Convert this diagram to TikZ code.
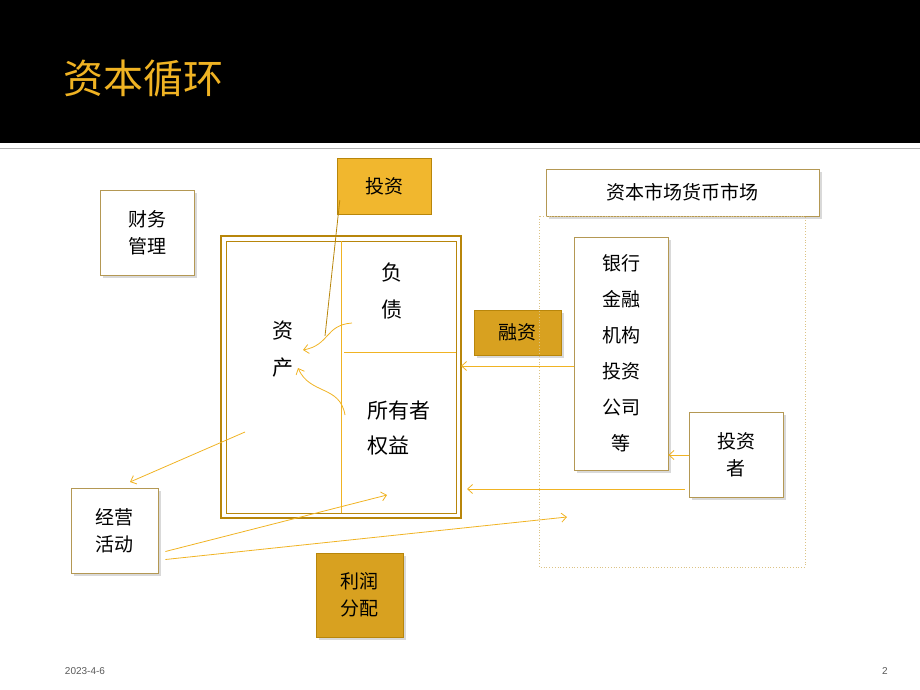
\documentclass[tikz,border=0pt]{standalone}
\usepackage{fontspec}
\setmainfont{Liberation Sans}
\newfontfamily\cjk{Noto Sans CJK SC}
\usetikzlibrary{arrows.meta}
\definecolor{gold}{HTML}{B8860B}
\definecolor{org}{HTML}{F0B323}
\definecolor{titlec}{HTML}{F0B323}
\tikzset{x=1pt,y=-1pt,
 wbox/.style={draw=gold!80!black!70,fill=white,drop shadow={opacity=0.3},line width=0.8pt},
 lbl/.style={font=\cjk\fontsize{19}{27}\selectfont,align=center,inner sep=0pt},
 arr/.style={draw=org,line width=0.8pt,-{Straight Barb[length=5pt,width=9pt]}},
 ln/.style={draw=org,line width=0.8pt}}
\usetikzlibrary{shadows}
\begin{document}
\begin{tikzpicture}
\useasboundingbox (0,0) rectangle (920,690);
\fill[black] (0,0) rectangle (920,143);
\draw[gray!60,line width=1pt] (0,148)--(920,148);
\node[font=\cjk\fontsize{40}{40}\selectfont,text=titlec,anchor=west] (title) at (60,78) {资本循环};
% boxes
\node[wbox,minimum width=94,minimum height=85,lbl] (cw) at (147,232.5) {财务\\管理};
\node[draw=gold,fill=org!95!white,minimum width=94,minimum height=56,lbl] (tz) at (384,186) {投资};
\draw[gold,line width=2.5pt] (221,236) rectangle (461,518);
\draw[gold,line width=0.8pt] (226,241) rectangle (456,513);
\node (mainbox) at (341,377) {};
\draw[ln] (341,241)--(341,513);
\draw[ln] (344,352)--(456,352);
\node[lbl,font=\cjk\fontsize{21}{37}\selectfont] (zc) at (283,349) {资\\产};
\node[lbl,font=\cjk\fontsize{21}{37}\selectfont] (fz) at (392,291) {负\\债};
\node[lbl,font=\cjk\fontsize{21}{35}\selectfont,align=left] (syz) at (399,428) {所有者\\权益};
\node[draw=gold,fill=org!90!black,minimum width=87,minimum height=45,lbl,drop shadow={opacity=0.3}] (rz) at (517.5,332.5) {融资};
\node[wbox,minimum width=273,minimum height=47,lbl] (sc) at (682.5,192.5) {资本市场货币市场};
\draw[gold!50,dotted,line width=0.8pt] (539,216) rectangle (805,567);
\node[wbox,minimum width=94,minimum height=233,lbl,font=\cjk\fontsize{19}{36}\selectfont] (yh) at (621,353.5) {银行\\金融\\机构\\投资\\公司\\等};
\node[wbox,minimum width=94,minimum height=85,lbl] (tzz) at (736,454.5) {投资\\者};
\node[wbox,minimum width=87,minimum height=85,lbl] (jy) at (114.5,530.5) {经营\\活动};
\node[draw=gold,fill=org!90!black,minimum width=87,minimum height=84,lbl,drop shadow={opacity=0.3}] (lr) at (359.5,595) {利润\\分配};
% connectors
\coordinate (a1) at (325,336);
\draw[draw=gold,line width=0.8pt] (tz.south west)++(3,-14) -- (a1);
\draw[arr] (352,323) .. controls (325,325) and (330,345) .. (303,350);
\draw[arr] (345,415) .. controls (340,385) and (310,395) .. (298,368);
\draw[arr] (yh.west |- 0,366) -- (461,366);
\coordinate (c1) at (245,432);
\draw[arr] (c1) -- (130,482);
\coordinate (e1) at (387,495); \coordinate (e2) at (567,517);
\draw[arr] (jy.east)++(7,21) -- (e1);
\draw[arr] (jy.east)++(7,29) -- (e2);
\draw[arr] (tzz.west |- 0,489)++(-4,0) -- (467,489);
\draw[arr] (tzz.west |- 0,455) -- (yh.east |- 0,455);
\node[font=\fontsize{10}{10}\selectfont,text=gray!70!black] (d) at (85,671) {2023-4-6};
\node[font=\fontsize{10}{10}\selectfont,text=gray!70!black] (p) at (885,671) {2};
\end{tikzpicture}
\end{document}
